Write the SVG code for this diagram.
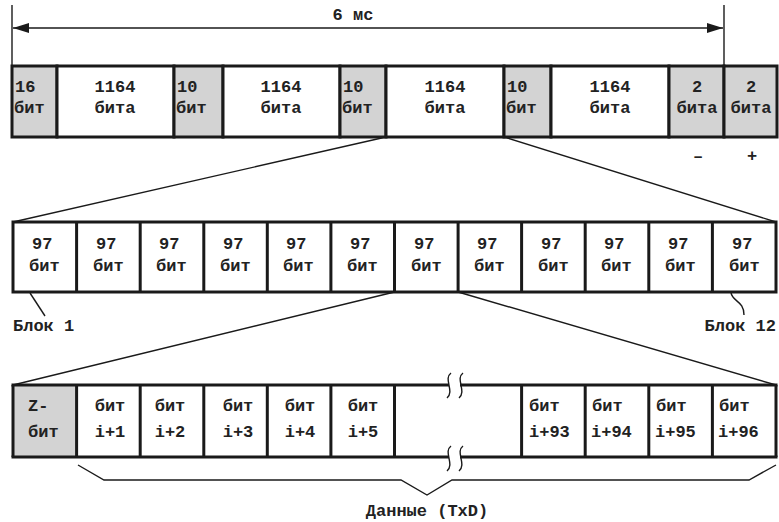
<svg xmlns="http://www.w3.org/2000/svg" width="779" height="522" viewBox="0 0 779 522">
<defs>
<style>
text{font-family:"Liberation Mono","DejaVu Sans Mono",monospace;font-size:17px;font-weight:bold;fill:#222}
.m{text-anchor:middle}
.box{stroke:#1a1a1a;stroke-width:3;fill:#fff}
.g{fill:#d3d3d3}
.thin{stroke:#1a1a1a;stroke-width:1.4;fill:none}
.thick{stroke:#1a1a1a;stroke-width:3;fill:none}
</style>
<marker id="ah" markerWidth="16" markerHeight="10" refX="16" refY="5" orient="auto-start-reverse" markerUnits="userSpaceOnUse">
<path d="M0,0 L16,5 L0,10 Z" fill="#1a1a1a"/>
</marker>
</defs>
<rect width="779" height="522" fill="#fff"/>

<g id="dimension">
<line class="thin" x1="12" y1="5" x2="12" y2="66"/>
<line class="thin" x1="724" y1="5" x2="724" y2="66"/>
<line class="thin" x1="13" y1="28" x2="723" y2="28" marker-start="url(#ah)" marker-end="url(#ah)"/>
<text class="m" x="353" y="20">6 мс</text>
</g>

<g id="frame">
<rect class="box g" x="12" y="66" width="45" height="71"/>
<rect class="box" x="57" y="66" width="117" height="71"/>
<rect class="box g" x="174" y="66" width="49" height="71"/>
<rect class="box" x="223" y="66" width="117" height="71"/>
<rect class="box g" x="340" y="66" width="46" height="71"/>
<rect class="box" x="386" y="66" width="118" height="71"/>
<rect class="box g" x="504" y="66" width="47" height="71"/>
<rect class="box" x="551" y="66" width="118" height="71"/>
<rect class="box g" x="669" y="66" width="55" height="71"/>
<rect class="box g" x="724" y="66" width="53" height="71"/>
<text x="15" y="92">16</text><text x="14" y="113">бит</text>
<text class="m" x="115" y="92">1164</text><text class="m" x="115" y="113">бита</text>
<text x="177" y="92">10</text><text x="176" y="113">бит</text>
<text class="m" x="281" y="92">1164</text><text class="m" x="281" y="113">бита</text>
<text x="343" y="92">10</text><text x="342" y="113">бит</text>
<text class="m" x="445" y="92">1164</text><text class="m" x="445" y="113">бита</text>
<text x="507" y="92">10</text><text x="506" y="113">бит</text>
<text class="m" x="610" y="92">1164</text><text class="m" x="610" y="113">бита</text>
<text class="m" x="697" y="92">2</text><text class="m" x="697" y="113">бита</text>
<text class="m" x="751" y="92">2</text><text class="m" x="751" y="113">бита</text>
<text class="m" x="698" y="161">–</text>
<text class="m" x="752" y="161">+</text>
</g>

<g id="blocks">
<rect class="box" x="13" y="222" width="763" height="70"/>
<path class="thick" d="M76.6,222V292M140.2,222V292M203.8,222V292M267.3,222V292M330.9,222V292M394.5,222V292M458.1,222V292M521.6,222V292M585.2,222V292M648.8,222V292M712.4,222V292"/>
<g class="row2">
<text x="32" y="249">97</text><text x="29" y="271">бит</text>
<text x="96" y="249">97</text><text x="93" y="271">бит</text>
<text x="159" y="249">97</text><text x="156" y="271">бит</text>
<text x="223" y="249">97</text><text x="220" y="271">бит</text>
<text x="286" y="249">97</text><text x="283" y="271">бит</text>
<text x="350" y="249">97</text><text x="347" y="271">бит</text>
<text x="414" y="249">97</text><text x="411" y="271">бит</text>
<text x="477" y="249">97</text><text x="474" y="271">бит</text>
<text x="541" y="249">97</text><text x="538" y="271">бит</text>
<text x="604" y="249">97</text><text x="601" y="271">бит</text>
<text x="668" y="249">97</text><text x="665" y="271">бит</text>
<text x="732" y="249">97</text><text x="729" y="271">бит</text>
</g>
<text x="13" y="331">Блок 1</text>
<text x="776" y="331" text-anchor="end">Блок 12</text>
</g>

<g id="bits">
<rect class="g" x="13" y="385" width="63.6" height="72"/>
<path class="thick" d="M13,385V457M776,385V457M76.6,385V457M140.2,385V457M203.8,385V457M267.3,385V457M330.9,385V457M394.5,385V457M521.6,385V457M585.2,385V457M648.8,385V457M712.4,385V457"/>
<path class="thick" d="M11.5,385H449M460,385H777.5M11.5,457H449M460,457H777.5"/>
<path class="thin" d="M451,373C443,379 455,391 447,398M463,373C455,379 467,391 459,398"/>
<path class="thin" d="M451,446C443,452 455,464 447,471M463,446C455,452 467,464 459,471"/>
<text x="28" y="411">Z-</text><text x="28" y="437">бит</text>
<text class="m" x="110" y="411">бит</text><text class="m" x="110" y="437">i+1</text>
<text class="m" x="170" y="411">бит</text><text class="m" x="170" y="437">i+2</text>
<text class="m" x="238" y="411">бит</text><text class="m" x="238" y="437">i+3</text>
<text class="m" x="300" y="411">бит</text><text class="m" x="300" y="437">i+4</text>
<text class="m" x="363" y="411">бит</text><text class="m" x="363" y="437">i+5</text>
<text x="529" y="411">бит</text><text x="529" y="437">i+93</text>
<text x="592" y="411">бит</text><text x="591" y="437">i+94</text>
<text x="656" y="411">бит</text><text x="655" y="437">i+95</text>
<text x="719" y="411">бит</text><text x="718" y="437">i+96</text>
<text class="m" x="427" y="516">Данные (TxD)</text>
</g>

<g id="connectors">
<path class="thin" d="M386,137L13,222M504,137L776,222"/>
<path class="thin" d="M394.5,292L13,385M458.1,292L776,385"/>
<path class="thin" d="M30,293L45,316"/>
<path class="thin" d="M731,293C733,302 744,301 744,315"/>
<path class="thin" d="M78,465L104,480L401,480L427,495L452,480L749,480L776,465"/>
</g>
</svg>
